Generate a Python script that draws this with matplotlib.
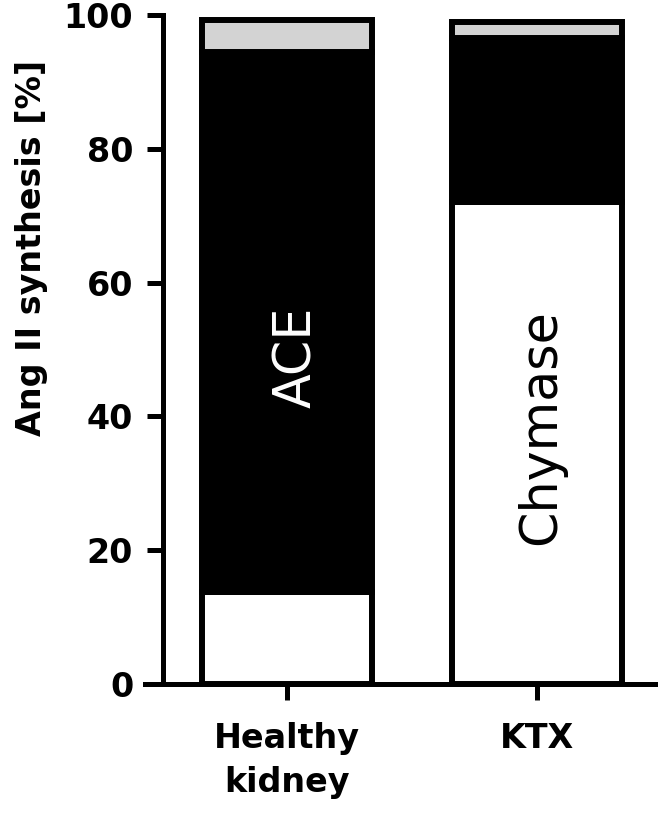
import matplotlib
matplotlib.use("Agg")
import matplotlib.pyplot as plt
import numpy as np

# values (percent of Ang II synthesis)
groups = ["Healthy\nkidney", "KTX"]
chymase = [13.7, 72.0]
ace = [80.8, 24.5]
other = [4.8, 2.5]

seg_colors = ["white", "black", "#d3d3d3"]

plt.rcParams["font.family"] = ["DejaVu Sans"]

fig = plt.figure(figsize=(6.64, 8.27), dpi=100)
ax = fig.add_axes([145 / 664, 143 / 827, 510 / 664, 669 / 827])

x = np.arange(len(groups))
bottom = np.zeros(len(groups))
for vals, col in zip([chymase, ace, other], seg_colors):
    ax.bar(x, vals, width=0.68, bottom=bottom, color=col,
           edgecolor="black", linewidth=4.3, zorder=2)
    bottom += np.array(vals)

# segment labels inside the bars
ax.text(x[0] + 0.04, 48.9, "ACE", rotation=90,
        ha="center", va="center", color="white", fontsize=36.5)
ax.text(x[1] + 0.016, 38.4, "Chymase", rotation=90,
        ha="center", va="center", color="black", fontsize=36.5)

ax.set_xlim(-0.568, 1.472)
ax.set_ylim(0, 100)
ax.set_yticks(np.arange(0, 101, 20))
ax.set_xticks(x)
ax.set_xticklabels(groups, fontsize=24, fontweight="bold", linespacing=1.4)

for side in ["top", "right"]:
    ax.spines[side].set_visible(False)
ax.spines["left"].set_position(("data", -0.496))
for side in ["left", "bottom"]:
    ax.spines[side].set_linewidth(3.6)

ax.tick_params(axis="both", length=11.5, width=3.6, labelsize=24)
ax.tick_params(axis="y", pad=10)
ax.tick_params(axis="x", pad=16)
for lab in ax.get_yticklabels():
    lab.set_fontweight("bold")

ax.set_ylabel("Ang II synthesis [%]", fontsize=24, fontweight="bold")
ax.yaxis.set_label_coords(-0.19, 0.652)

fig.savefig("out.png", dpi=100)
